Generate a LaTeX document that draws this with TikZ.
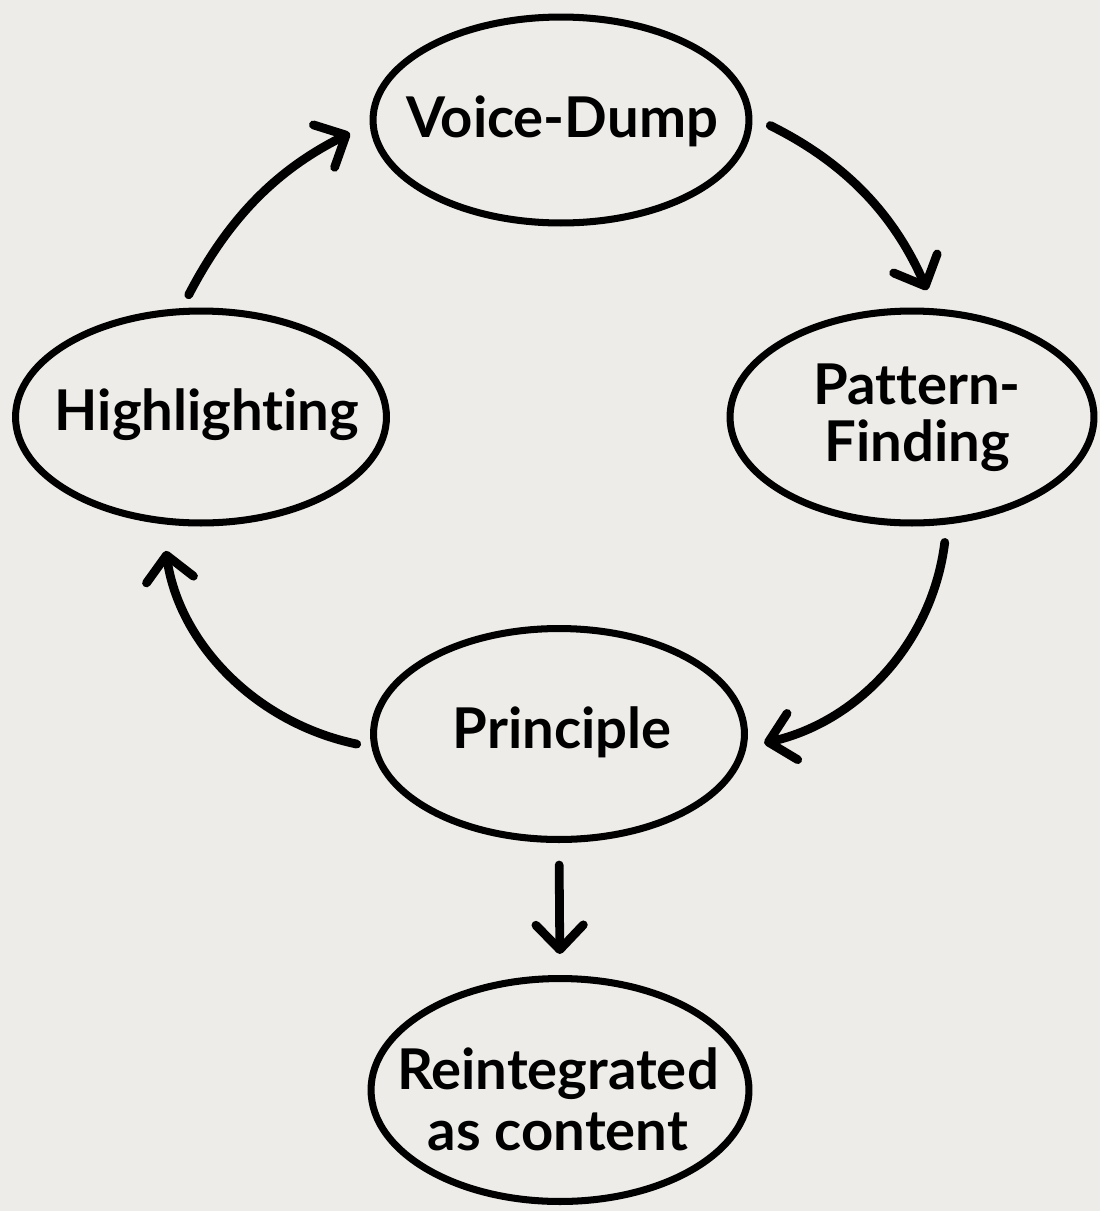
\documentclass[tikz,border=0pt]{standalone}
\usepackage{fontspec}
\setmainfont{Lato}[Ligatures=NoCommon]
\usetikzlibrary{arrows.meta,shapes.geometric}
\definecolor{paper}{RGB}{238,236,232}
\begin{document}
\begin{tikzpicture}[x=0.02cm,y=0.02cm,
  stage/.style={ellipse, draw=black, line width=4pt, inner sep=0pt},
  caption/.style={inner sep=0pt, align=center, text=black,
    font=\fontsize{32}{33}\selectfont\bfseries},
  flow/.style={line width=5pt, line cap=round, draw=black,
    -{Straight Barb[length=14pt,width=27pt,line cap=round,line join=round]}}]
% paper background and page size
\fill[paper] (0,0) rectangle (1100,-1211);
\useasboundingbox (0,0) rectangle (1100,-1211);

% the five stages
\node[stage, minimum width=7.52cm, minimum height=4.12cm] (V)  at (561,-120)  {};
\node[stage, minimum width=7.28cm, minimum height=4.24cm] (P)  at (912,-417)  {};
\node[stage, minimum width=7.42cm, minimum height=4.24cm] (H)  at (201,-417)  {};
\node[stage, minimum width=7.42cm, minimum height=4.22cm] (Pr) at (559,-734)  {};
\node[stage, minimum width=7.56cm, minimum height=4.46cm] (R)  at (560,-1090) {};

% stage names
\node[caption, anchor=base]  (Vt)  at (562,-137)  {Voice-Dump};
\node[caption, anchor=base]  (Ht)  at (207,-430)  {Highlighting};
\node[caption, anchor=base]  (Prt) at (562,-748)  {Principle};
\node[caption, anchor=north] (Pt)  at (917,-363)  {Pattern-\\Finding};
\node[caption, anchor=north, font=\fontsize{32}{35}\selectfont\bfseries]
                             (Rt)  at (558,-1047) {Reintegrated\\as content};

% the cycle
\draw[flow, shorten <=0.3cm,  shorten >=0.44cm] (H.100)  to[bend left=18] (V.181);
\draw[flow, shorten <=0.4cm,  shorten >=0.4cm]  (V.1)    to[bend left=20] (P.78);
\draw[flow, shorten <=0.36cm, shorten >=0.36cm] (P.-72)  to[bend left=35] (Pr.-4);
\draw[flow, shorten <=0.3cm,  shorten >=0.54cm] (Pr.184) to[bend left=35] (H.250);
% way out of the cycle
\draw[flow, shorten <=0.44cm, shorten >=0.42cm] (Pr.south) -- (R.north);
\end{tikzpicture}
\end{document}
